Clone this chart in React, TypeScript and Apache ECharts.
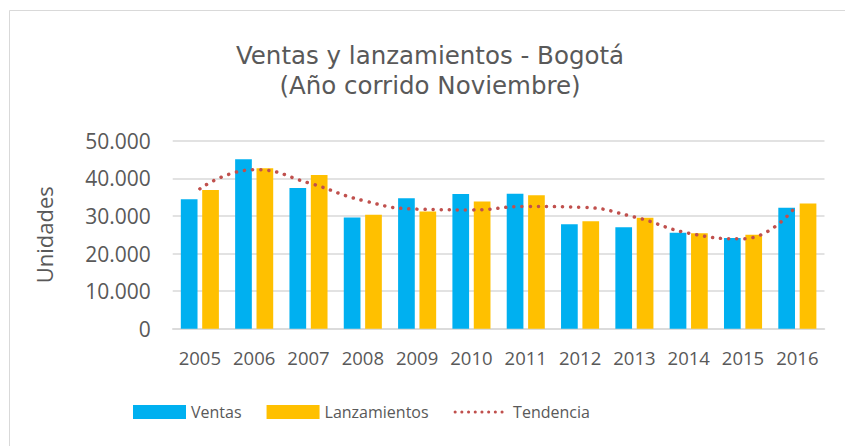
import React, { useEffect, useRef } from "react";
import * as echarts from "echarts";

const years = ["2005","2006","2007","2008","2009","2010","2011","2012","2013","2014","2015","2016"];
const ventas = [34400, 45050, 37400, 29600, 34700, 35800, 35900, 27800, 27000, 25500, 24100, 32200];
const lanzamientos = [36900, 42700, 40900, 30300, 31200, 33800, 35500, 28600, 29500, 25400, 25000, 33300];
const tendencia = [37200, 42300, 38800, 34100, 31800, 31600, 32500, 32300, 29700, 25400, 23900, 33000];
const titleLines = ["Ventas y lanzamientos - Bogotá", "(Año corrido Noviembre)"];

const FONT = "'Open Sans', 'Noto Sans', sans-serif";
const TITLE_FONT = "'DejaVu Sans', 'Open Sans', sans-serif";
const GREY = "#595959";

export default function App() {
  const ref = useRef<HTMLDivElement>(null);
  useEffect(() => {
    if (!ref.current) return;
    const chart = echarts.init(ref.current, null, { renderer: "svg" });
    chart.setOption({
      animation: false,
      backgroundColor: "#ffffff",
      textStyle: { fontFamily: FONT },
      graphic: [
        {
          type: "rect",
          shape: { x: 9.5, y: 10.5, width: 1000, height: 1000 },
          style: { fill: "none", stroke: "#D9D9D9", lineWidth: 1 },
          silent: true,
        },
      ],
      title: titleLines.map((t, i) => ({
        text: t,
        left: 430,
        top: 40 + i * 30,
        padding: 0,
        textAlign: "center",
        textStyle: { fontFamily: TITLE_FONT, fontSize: 24.5, lineHeight: 30, fontWeight: "normal", color: GREY },
      })),
      legend: {
        left: 128,
        top: 399,
        itemWidth: 53,
        itemHeight: 14,
        itemGap: 25,
        textStyle: { fontFamily: FONT, fontSize: 16, color: GREY },
        data: [
          { name: "Ventas", icon: "rect" },
          { name: "Lanzamientos", icon: "rect" },
          {
            name: "Tendencia",
            itemStyle: { opacity: 0 },
            lineStyle: { color: "#C0504D", width: 3, type: [0.1, 6.6], cap: "round" },
          },
        ],
      },
      grid: { left: 172.7, right: 20.5, top: 140.7, bottom: 117.3, containLabel: false },
      xAxis: {
        type: "category",
        data: years,
        axisTick: { show: false },
        axisLine: { lineStyle: { color: "#D9D9D9", width: 1.5 } },
        axisLabel: { fontFamily: FONT, fontSize: 18.5, color: GREY, margin: 19, interval: 0 },
      },
      yAxis: {
        type: "value",
        min: 0,
        max: 50000,
        interval: 10000,
        name: "Unidades",
        nameLocation: "middle",
        nameRotate: 90,
        nameGap: 118,
        nameTextStyle: { fontFamily: FONT, fontSize: 22, color: GREY },
        axisLine: { show: false },
        axisTick: { show: false },
        splitLine: { lineStyle: { color: "#D9D9D9", width: 1.5 } },
        axisLabel: {
          fontFamily: FONT,
          fontSize: 21,
          color: GREY,
          margin: 22,
          formatter: (v: number) => (v === 0 ? "0" : v.toLocaleString("de-DE")),
        },
      },
      series: [
        {
          name: "Ventas",
          type: "bar",
          data: ventas,
          barWidth: 16.7,
          barGap: "28%",
          itemStyle: { color: "#00B0F0" },
        },
        {
          name: "Lanzamientos",
          type: "bar",
          data: lanzamientos,
          barWidth: 16.7,
          itemStyle: { color: "#FFC000" },
        },
        {
          name: "Tendencia",
          type: "line",
          data: tendencia,
          smooth: 0.5,
          symbol: "none",
          itemStyle: { color: "#C0504D" },
          lineStyle: { color: "#C0504D", width: 3.5, type: [0.1, 8], cap: "round" },
          z: 5,
        },
      ],
    });
    return () => chart.dispose();
  }, []);
  return <div ref={ref} style={{ position: "fixed", left: 0, top: 0, width: 845, height: 446 }} />;
}
